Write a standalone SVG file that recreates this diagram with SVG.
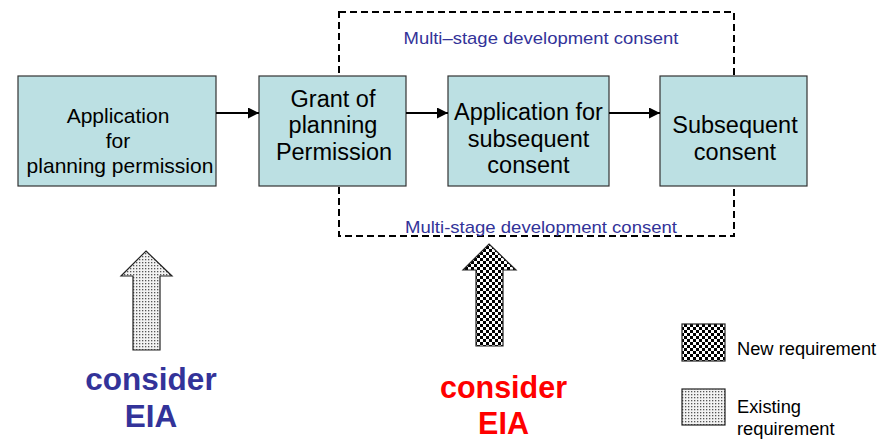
<svg xmlns="http://www.w3.org/2000/svg" width="893" height="440" viewBox="0 0 893 440">
  <style>
    .box { fill: #bce0e3; stroke: #333; stroke-width: 1.2; }
    .lbl { font-family: "Liberation Sans", Arial, sans-serif; fill: #000; text-anchor: middle; }
    .stage { font-family: "Liberation Sans", Arial, sans-serif; font-size: 17px; fill: #333399; text-anchor: middle; }
    .eia { font-family: "Liberation Sans", Arial, sans-serif; font-weight: bold; text-anchor: middle; }
    .leg { font-family: "Liberation Sans", Arial, sans-serif; font-size: 18.3px; fill: #000; }
    .flow { stroke: #000; stroke-width: 2; fill: none; }
    .block { stroke: #222; stroke-width: 1.2; }
  </style>
  <defs>
    <marker id="head" viewBox="0 0 10 10" refX="10" refY="5" markerWidth="5.5" markerHeight="5.5" markerUnits="strokeWidth" orient="auto">
      <path d="M0,0 L10,5 L0,10 z" fill="#000"/>
    </marker>
    <pattern id="dots" width="3" height="3" patternUnits="userSpaceOnUse">
      <rect width="3" height="3" fill="#f2f2f2"/>
      <rect x="1" y="1" width="1.3" height="1.3" fill="#555"/>
    </pattern>
    <pattern id="checker" width="6" height="6" patternUnits="userSpaceOnUse">
      <rect width="6" height="6" fill="#fff"/>
      <rect x="0" y="0" width="3" height="3" fill="#000"/>
      <rect x="3" y="3" width="3" height="3" fill="#000"/>
    </pattern>
  </defs>

  <!-- multi-stage consent boundary -->
  <g id="multistage">
    <rect x="339" y="12" width="395" height="224" fill="none" stroke="#000" stroke-width="2" stroke-dasharray="7 4"/>
    <text class="stage" x="541" y="44" textLength="275" lengthAdjust="spacingAndGlyphs">Multi–stage development consent</text>
    <text class="stage" x="541" y="233" textLength="272" lengthAdjust="spacingAndGlyphs">Multi-stage development consent</text>
  </g>

  <g id="application">
    <rect class="box" x="18" y="76" width="198" height="110"/>
    <text class="lbl" font-size="21" x="118" y="123">Application</text>
    <text class="lbl" font-size="21" x="118" y="148">for</text>
    <text class="lbl" font-size="21" x="120" y="173">planning permission</text>
  </g>

  <g id="grant">
    <rect class="box" x="259" y="76" width="147" height="110"/>
    <text class="lbl" font-size="23.5" x="333" y="107">Grant of</text>
    <text class="lbl" font-size="23.5" x="333" y="133">planning</text>
    <text class="lbl" font-size="23.5" x="334" y="160">Permission</text>
  </g>

  <g id="subsequent-application">
    <rect class="box" x="448" y="76" width="161" height="110"/>
    <text class="lbl" font-size="23.5" x="528.5" y="120">Application for</text>
    <text class="lbl" font-size="23.5" x="528.5" y="147">subsequent</text>
    <text class="lbl" font-size="23.5" x="528.5" y="173">consent</text>
  </g>

  <g id="subsequent-consent">
    <rect class="box" x="660" y="76" width="147" height="110"/>
    <text class="lbl" font-size="23.5" x="735" y="133">Subsequent</text>
    <text class="lbl" font-size="23.5" x="735" y="160">consent</text>
  </g>

  <g id="connectors">
    <line class="flow" x1="216" y1="113" x2="259" y2="113" marker-end="url(#head)"/>
    <line class="flow" x1="406" y1="113" x2="448" y2="113" marker-end="url(#head)"/>
    <line class="flow" x1="609" y1="113" x2="660" y2="113" marker-end="url(#head)"/>
  </g>

  <g id="existing-eia">
    <path class="block" fill="url(#dots)" d="M146,251 L172,276 L160,276 L160,350 L133,350 L133,276 L121,276 Z"/>
    <text class="eia" font-size="31.5" fill="#333399" x="151" y="390">consider</text>
    <text class="eia" font-size="31.5" fill="#333399" x="151" y="427">EIA</text>
  </g>

  <g id="new-eia">
    <path class="block" fill="url(#checker)" d="M489,244 L516,270 L503,270 L503,346 L476,346 L476,270 L463,270 Z"/>
    <text class="eia" font-size="30.5" fill="#ff0000" x="503.5" y="398">consider</text>
    <text class="eia" font-size="30.5" fill="#ff0000" x="503.5" y="434">EIA</text>
  </g>

  <g id="legend">
    <rect class="block" fill="url(#checker)" x="682" y="324" width="43" height="37"/>
    <text class="leg" x="737" y="355">New requirement</text>
    <rect class="block" fill="url(#dots)" x="682" y="389" width="43" height="36"/>
    <text class="leg" x="737" y="413">Existing</text>
    <text class="leg" x="737" y="435">requirement</text>
  </g>
</svg>
